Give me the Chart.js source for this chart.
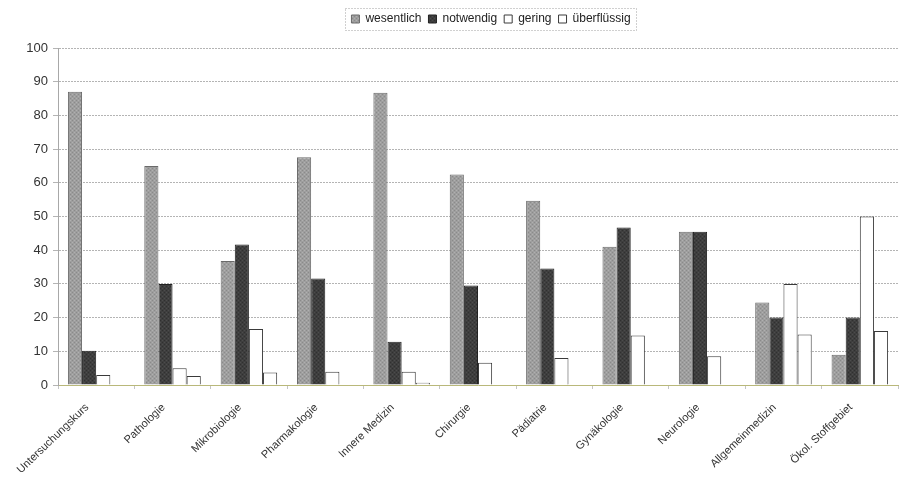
<!DOCTYPE html>
<html>
<head>
<meta charset="utf-8">
<script src="https://cdn.jsdelivr.net/npm/chart.js@4/dist/chart.umd.min.js"></script>
<style>
  html, body { margin: 0; padding: 0; background: #fff; }
  #wrap { width: 899px; height: 477px; position: relative; }
</style>
</head>
<body>
<div id="wrap"><canvas id="c"></canvas></div>
<script>
// Subjects rated by students (percent of answers)
const categories = ['Untersuchungskurs', 'Pathologie', 'Mikrobiologie', 'Pharmakologie', 'Innere Medizin',
  'Chirurgie', 'Pädiatrie', 'Gynäkologie', 'Neurologie', 'Allgemeinmedizin', 'Ökol. Stoffgebiet'];
const seriesNames = ['wesentlich', 'notwendig', 'gering', 'überflüssig'];
const wesentlich    = [87, 65, 36.8, 67.6, 86.7, 62.5, 54.7, 41, 45.5, 24.5, 9];
const notwendig     = [10.2, 30, 41.7, 31.6, 12.8, 29.5, 34.6, 46.7, 45.5, 20, 20];
const gering        = [3, 5, 16.6, 3.9, 3.9, 6.6, 8, 14.7, 8.5, 30, 50];
const ueberfluessig = [0, 2.7, 3.7, 0, 0.7, 0, 0, 0, 0, 15, 16];
const yTicks = [0, 10, 20, 30, 40, 50, 60, 70, 80, 90, 100];

// small dotted fill that gives the printed bars their grainy look
function texture(base, dark, light) {
  const c = document.createElement('canvas');
  c.width = 4; c.height = 4;
  const g = c.getContext('2d');
  g.fillStyle = base; g.fillRect(0, 0, 4, 4);
  g.fillStyle = dark; g.fillRect(0, 0, 1, 1); g.fillRect(2, 2, 1, 1);
  g.fillStyle = light; g.fillRect(2, 0, 1, 1); g.fillRect(0, 2, 1, 1);
  return g.createPattern(c, 'repeat');
}
const greyFill = texture('#9e9e9e', '#8a8a8a', '#b0b0b0');
const darkFill = texture('#3e3e3e', '#303030', '#4c4c4c');

const LEGEND_SHIFT = 42; // legend sits right of the chart centre

// dotted frame around the legend, extra room below it, and its horizontal offset
const legendFrame = {
  id: 'legendFrame',
  afterInit(chart) {
    const lg = chart.legend;
    const fit = lg.fit.bind(lg);
    lg.fit = function () { fit(); this.height += 13; };
    const draw = lg.draw.bind(lg);
    lg.draw = function () {
      const ctx = this.ctx;
      ctx.save();
      ctx.translate(LEGEND_SHIFT, 0);
      draw();
      ctx.restore();
    };
  },
  afterDraw(chart) {
    const boxes = chart.legend && chart.legend.legendHitBoxes;
    if (!boxes || !boxes.length) return;
    let l = Infinity, r = -Infinity, t = Infinity, b = -Infinity;
    boxes.forEach(h => { l = Math.min(l, h.left); r = Math.max(r, h.left + h.width); t = Math.min(t, h.top); b = Math.max(b, h.top + h.height); });
    const ctx = chart.ctx;
    ctx.save();
    ctx.strokeStyle = '#a0a0a0';
    ctx.lineWidth = 1;
    ctx.setLineDash([1, 2]);
    ctx.strokeRect(Math.round(l - 6 + LEGEND_SHIFT) + 0.5, Math.round(t - 5) + 0.5, Math.round(r - l + 12), Math.round(b - t + 10));
    ctx.restore();
  }
};

new Chart(document.getElementById('c'), {
  type: 'bar',
  data: {
    labels: categories,
    datasets: [
      { label: seriesNames[0], data: wesentlich, backgroundColor: greyFill, borderColor: '#6a6a6a', borderWidth: 1 },
      { label: seriesNames[1], data: notwendig, backgroundColor: darkFill, borderColor: '#222', borderWidth: 1 },
      { label: seriesNames[2], data: gering, backgroundColor: '#ffffff', borderColor: '#3a3a3a', borderWidth: 1 },
      { label: seriesNames[3], data: ueberfluessig, backgroundColor: '#ffffff', borderColor: '#3a3a3a', borderWidth: 1 }
    ]
  },
  options: {
    responsive: true,
    maintainAspectRatio: false,
    animation: false,
    devicePixelRatio: 1,
    layout: { padding: { top: 6, right: 1, left: 0, bottom: 0 } },
    datasets: { bar: { categoryPercentage: 0.74, barPercentage: 1.0 } },
    plugins: {
      legend: {
        position: 'top',
        labels: {
          boxWidth: 8, boxHeight: 8, padding: 7,
          color: '#222',
          font: { family: 'Liberation Sans, Arial, sans-serif', size: 12 }
        }
      },
      tooltip: { enabled: false }
    },
    scales: {
      x: {
        afterFit(s) { s.height = 92; },
        grid: { display: true, drawOnChartArea: false, drawTicks: true, tickLength: 4, color: '#c4c4c4', offset: true },
        border: { display: true, color: '#b9b87a', width: 1 },
        ticks: {
          autoSkip: false, minRotation: 44, maxRotation: 44, padding: 12, labelOffset: -9,
          color: '#333',
          font: { family: 'Liberation Sans, Arial, sans-serif', size: 11 }
        }
      },
      y: {
        min: 0, max: 100,
        afterFit(s) { s.width = 58; },
        afterBuildTicks(s) { s.ticks = yTicks.map(v => ({ value: v })); },
        grid: { color: '#b4b4b4', lineWidth: 1, tickLength: 5, drawTicks: true },
        border: { display: true, color: '#a8a8a8', dash: [2, 1] },
        ticks: {
          padding: 5, color: '#333',
          font: { family: 'Liberation Sans, Arial, sans-serif', size: 13 }
        }
      }
    }
  },
  plugins: [legendFrame]
});
</script>
</body>
</html>
